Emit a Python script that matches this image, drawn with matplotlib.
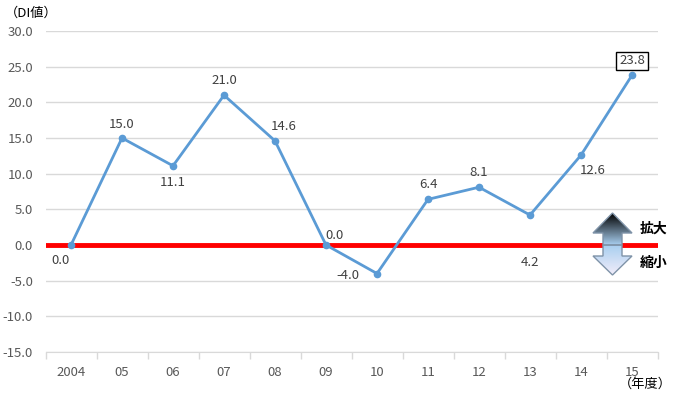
import numpy as np
import matplotlib
matplotlib.use("Agg")
from matplotlib import pyplot as plt
from matplotlib.patches import Polygon

plt.rcParams['font.family'] = ['Noto Sans CJK JP', 'DejaVu Sans']
plt.rcParams['axes.unicode_minus'] = False

years = ['2004', '05', '06', '07', '08', '09', '10', '11', '12', '13', '14', '15']
di = [0.0, 15.0, 11.1, 21.0, 14.6, 0.0, -4.0, 6.4, 8.1, 4.2, 12.6, 23.8]
# label offsets in points (dx, dy)
offs = [(-10, -15), (0, 13), (0, -16), (0, 14), (8, 14), (8, 9),
        (-28, -2), (0, 14), (0, 14), (0, -46), (11, -15), (0, 14)]

grey = '#595959'
fig = plt.figure(figsize=(6.76, 3.98), dpi=100)
ax = fig.add_axes([45.5/676, 46/398, 612/676, 321/398])

x = np.arange(len(years))
ax.plot(x, di, color='#5B9BD5', lw=2, marker='o', ms=4.5, zorder=3)
ax.axhline(0, color='#FF0000', lw=3.5, zorder=2)

for xi, v, (dx, dy) in zip(x, di, offs):
    kw = {}
    if xi == len(years) - 1:
        kw['bbox'] = dict(boxstyle='square,pad=0.2', fc='white', ec='black', lw=1)
    ax.annotate(f'{v:.1f}', (xi, v), xytext=(dx*0.75, dy*0.75), textcoords='offset points',
                ha='center', va='center', fontsize=9.5, color='#404040', zorder=4, **kw)

ax.set_xlim(-0.5, len(years) - 0.5)
ax.set_ylim(-15, 30)
ax.set_yticks(np.arange(-15, 31, 5))
ax.set_yticklabels([f'{v:.1f}' for v in np.arange(-15, 31, 5)])
ax.set_xticks(x)
ax.set_xticklabels(years)
ax.set_xticks(np.arange(-0.5, len(years), 1), minor=True)
ax.tick_params(axis='x', which='major', length=0, pad=10, labelsize=9.5, labelcolor=grey)
ax.tick_params(axis='x', which='minor', length=5, color='#d9d9d9', width=1)
ax.tick_params(axis='y', length=0, pad=9, labelsize=9.5, labelcolor=grey)
ax.grid(axis='y', color='#d9d9d9', lw=1)
ax.set_axisbelow(True)
for s in ['top', 'right', 'left']:
    ax.spines[s].set_visible(False)
ax.spines['bottom'].set_color('#d9d9d9')

fig.text(5/676, 1 - 13/398, '（DI値）', fontsize=9.5, color='black', va='center', ha='left')
fig.text(1 - 4/676, 1 - 384/398, '（年度）', fontsize=9.5, color='black', va='center', ha='right')

# expansion / contraction arrow drawn in pixel space
ov = fig.add_axes([0, 0, 1, 1], zorder=5)
ov.set_xlim(0, 676)
ov.set_ylim(398, 0)
ov.axis('off')
up = [(612.5, 213), (632, 233), (622, 233), (622, 245), (603, 245), (603, 233), (593, 233)]
dn = [(603, 245), (622, 245), (622, 256), (632, 256), (612.5, 275), (593, 256), (603, 256)]
g = np.linspace(0, 1, 100).reshape(-1, 1)
c_top = np.array([0.0, 0.0, 0.0])
c_mid = np.array([0.66, 0.81, 0.94])
c_bot = np.array([0.95, 0.93, 0.98])
img_up = np.repeat(c_top + (c_mid - c_top) * g[..., None], 2, axis=1)
img_dn = np.repeat(c_mid + (c_bot - c_mid) * g[..., None], 2, axis=1)
for pts, img, y0, y1 in [(up, img_up, 213, 245), (dn, img_dn, 245, 275)]:
    poly = Polygon(pts, closed=True, fc='none', ec='#7f93a8', lw=1)
    ov.add_patch(poly)
    im = ov.imshow(img, extent=(593, 632, y1, y0), aspect='auto', interpolation='bilinear')
    im.set_clip_path(poly)
ov.set_xlim(0, 676)
ov.set_ylim(398, 0)
ov.text(640, 229, '拡大', fontsize=10, fontweight='bold', va='center', ha='left')
ov.text(640, 263, '縮小', fontsize=10, fontweight='bold', va='center', ha='left')

fig.savefig('out.png', dpi=100)
